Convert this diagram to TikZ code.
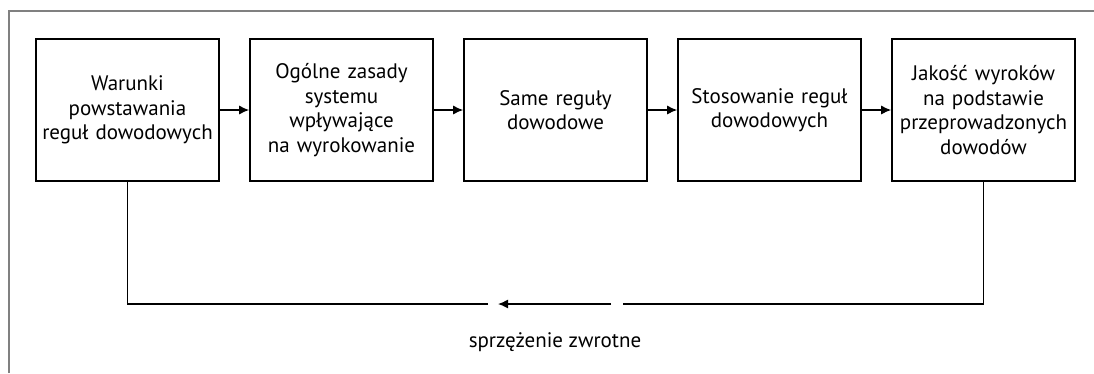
\documentclass[tikz,border=0pt]{standalone}
\usepackage{fontspec}
\setmainfont{PT Sans}
\usetikzlibrary{arrows.meta}
\begin{document}
\begin{tikzpicture}[x=1pt,y=-1pt,
  box/.style={draw, line width=1.6pt, minimum width=183pt, minimum height=142pt, inner sep=0pt,
    text width=178pt, align=center, font=\fontsize{21}{24.5}\selectfont},
  conn/.style={line width=1.3pt},
  arr/.style={conn, -{Latex[length=10pt,width=9pt]}},
  frame/.style={draw=gray, line width=1.2pt}]
\useasboundingbox (0,0) rectangle (1094,373);
\draw[frame] (9,373) -- (9,11) -- (1094,11);
\node[box] (b1) at (127.5,110) {Warunki\\powstawania\\reguł dowodowych};
\node[box] (b2) at (341.5,110) {Ogólne zasady\\systemu\\wpływające\\na wyrokowanie};
\node[box] (b3) at (555.5,110) {Same reguły\\dowodowe};
\node[box] (b4) at (769.5,110) {Stosowanie reguł\\dowodowych};
\node[box] (b5) at (983.5,110) {Jakość wyroków\\na podstawie\\przeprowadzonych\\dowodów};
\draw[arr] (b1) -- (b2);
\draw[arr] (b2) -- (b3);
\draw[arr] (b3) -- (b4);
\draw[arr] (b4) -- (b5);
\coordinate (fbR) at (983.5,304);
\coordinate (fbL) at (127.5,304);
\coordinate (gapR) at (623,304);
\coordinate (arrS) at (611,304);
\coordinate (arrE) at (498,304);
\coordinate (gapL) at (488,304);
\draw[conn] (b5.south) -- (fbR) -- (gapR);
\draw[arr] (arrS) -- (arrE);
\draw[conn] (gapL) -- (fbL) -- (b1.south);
\node[font=\fontsize{21}{24}\selectfont] (lbl) at (555,342) {sprzężenie zwrotne};
\end{tikzpicture}
\end{document}
